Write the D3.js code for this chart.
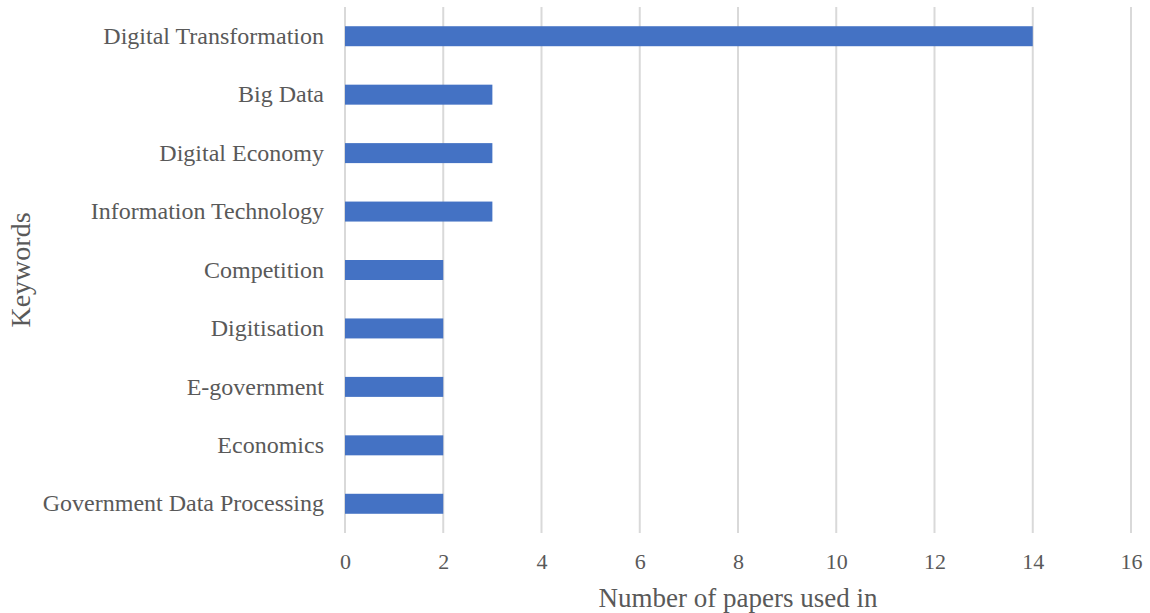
<!DOCTYPE html>
<html><head><meta charset="utf-8">
<script src="https://cdn.jsdelivr.net/npm/d3@7"></script>
<style>body{margin:0;background:#fff}svg text{font-family:"Liberation Serif","Times New Roman",serif;fill:#595959}</style>
</head><body><svg id="c" width="1150" height="613"></svg>
<script>
const categories = ["Digital Transformation","Big Data","Digital Economy","Information Technology","Competition","Digitisation","E-government","Economics","Government Data Processing"];
const values = [14,3,3,3,2,2,2,2,2];
const xTicks = [0,2,4,6,8,10,12,14,16];

const svg = d3.select("#c");
const m = {l:345, r:19, t:7, b:80};
const W = 1150, H = 613;
const x = d3.scaleLinear().domain([0,16]).range([m.l, W - m.r]);
const y = d3.scaleBand().domain(categories).range([m.t, H - m.b]).paddingInner(0.658).paddingOuter(0.329);

svg.append("g").selectAll("line").data(xTicks).join("line")
  .attr("x1", d=>x(d)).attr("x2", d=>x(d)).attr("y1", m.t).attr("y2", H - m.b)
  .attr("stroke", "#d9d9d9").attr("stroke-width", 2);

svg.append("g").selectAll("rect").data(values).join("rect")
  .attr("x", x(0)).attr("y", (d,i)=>y(categories[i]))
  .attr("width", d=>x(d)-x(0)).attr("height", y.bandwidth())
  .attr("fill", "#4472C4");

const xa = svg.append("g").attr("transform", `translate(0,${H - m.b})`)
  .call(d3.axisBottom(x).tickValues(xTicks).tickSize(0).tickPadding(20));
xa.select(".domain").remove();
xa.selectAll("text").attr("font-size", 22).style("fill", "#595959").attr("font-family", "Liberation Serif");

const ya = svg.append("g").attr("transform", `translate(${m.l},0)`)
  .call(d3.axisLeft(y).tickSize(0).tickPadding(21));
ya.select(".domain").remove();
ya.selectAll("text").attr("font-size", 24).style("fill", "#595959").attr("font-family", "Liberation Serif");

svg.append("text").attr("x", x(8)).attr("y", 607).attr("text-anchor", "middle")
  .attr("font-size", 27).text("Number of papers used in");
svg.append("text").attr("transform", `translate(30,270) rotate(-90)`)
  .attr("text-anchor", "middle").attr("font-size", 28).text("Keywords");
</script></body></html>
